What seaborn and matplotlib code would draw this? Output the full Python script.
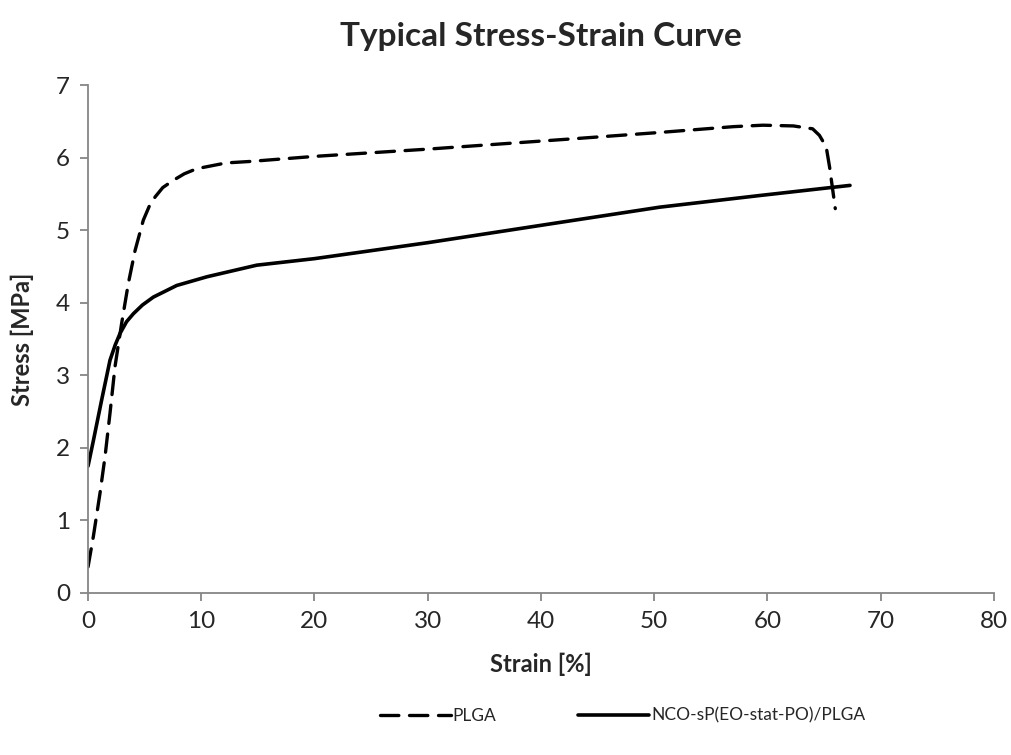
import matplotlib
matplotlib.use("Agg")
import matplotlib.pyplot as plt
import seaborn as sns
import pandas as pd

# Data
plga_strain = [0.0, 0.47, 1.06, 1.5, 1.94, 2.38, 2.97, 3.56, 4.15, 4.88, 5.4, 5.92, 6.6,
               7.53, 8.5, 9.59, 12.2, 14.3, 20.0, 30.0, 42.6, 50.5, 57.0, 59.6, 62.3,
               64.0, 64.6, 65.2, 65.5, 66.0]
plga_stress = [0.36, 0.78, 1.38, 1.88, 2.48, 3.12, 3.72, 4.27, 4.72, 5.14, 5.33, 5.46, 5.59,
               5.69, 5.78, 5.85, 5.93, 5.95, 6.02, 6.12, 6.26, 6.35, 6.43, 6.45, 6.44,
               6.40, 6.31, 6.15, 5.87, 5.30]

nco_strain = [0.0, 0.47, 1.2, 1.94, 2.4, 2.83, 3.4, 4.0, 4.8, 5.77, 7.83, 10.5, 14.9,
              20.0, 30.0, 41.7, 50.5, 59.3, 67.3]
nco_stress = [1.75, 2.1, 2.66, 3.21, 3.42, 3.58, 3.74, 3.85, 3.97, 4.08, 4.24, 4.36, 4.52,
              4.61, 4.83, 5.11, 5.32, 5.48, 5.62]

sns.set_style("white")
plt.rcParams['font.family'] = ['Lato', 'DejaVu Sans']

fig = plt.figure(figsize=(10.12, 7.55), dpi=100)
ax = fig.add_axes([0.087, 0.2146, 0.895, 0.6724])

plga = pd.DataFrame({"Strain": plga_strain, "Stress": plga_stress})
nco = pd.DataFrame({"Strain": nco_strain, "Stress": nco_stress})

sns.lineplot(data=plga, x="Strain", y="Stress", ax=ax, sort=False, estimator=None,
             color="black", lw=2.4, label="PLGA")
sns.lineplot(data=nco, x="Strain", y="Stress", ax=ax, sort=False, estimator=None,
             color="black", lw=2.6, label="NCO-sP(EO-stat-PO)/PLGA")
ax.lines[0].set_dashes((5.5, 3.2))
ax.lines[0].set_dash_capstyle("round")
for ln in ax.lines:
    ln.set_solid_joinstyle("round")

ax.set_xlim(0, 80)
ax.set_ylim(0, 7)
ax.set_xticks(range(0, 81, 10))
ax.set_yticks(range(0, 8))

for s in ["top", "right"]:
    ax.spines[s].set_visible(False)
for s in ["left", "bottom"]:
    ax.spines[s].set_color("#868686")
    ax.spines[s].set_linewidth(1.3)
ax.tick_params(axis="both", direction="out", length=6, width=1.3, color="#868686",
               labelsize=17.5, pad=7, left=True, bottom=True)

ax.set_xlabel("Strain [%]", fontsize=17, fontweight="bold", labelpad=15)
ax.set_ylabel("Stress [MPa]", fontsize=17, fontweight="bold", labelpad=16)
ax.set_title("Typical Stress-Strain Curve", fontsize=24, fontweight="bold", pad=28)

handles, labels = ax.get_legend_handles_labels()
leg = ax.legend(handles, labels, loc="upper center", bbox_to_anchor=(0.59, -0.195),
                ncol=2, frameon=False, fontsize=12.5, handlelength=4.1,
                handletextpad=0.1, columnspacing=4.7)

fig.savefig("out.png", dpi=100)
